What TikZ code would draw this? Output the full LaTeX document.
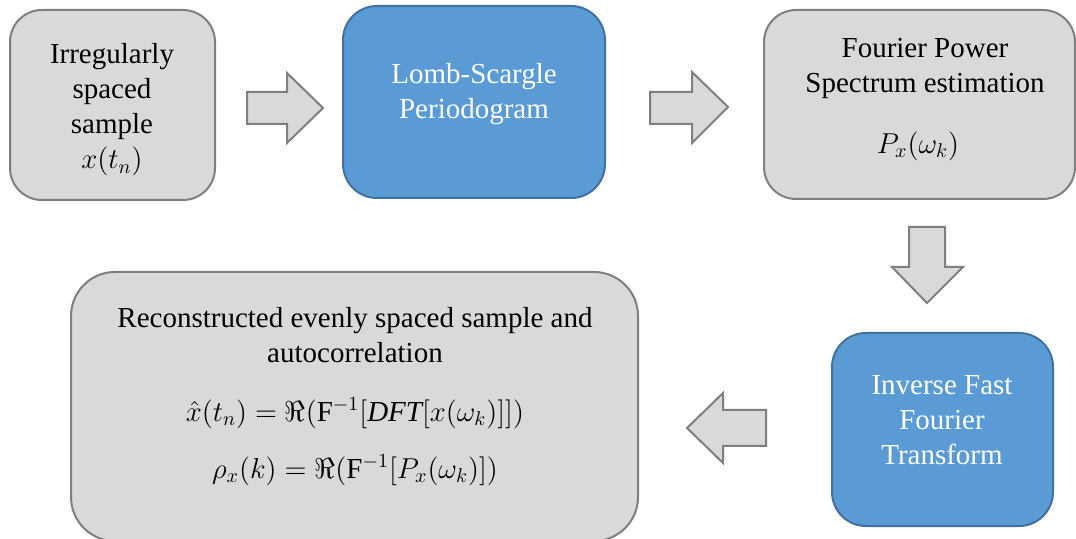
\documentclass[tikz,border=0pt]{standalone}
\usepackage{fontspec}
\setmainfont{Liberation Serif}
\definecolor{boxgray}{HTML}{D9D9D9}
\definecolor{boxline}{HTML}{7F7F7F}
\definecolor{blueF}{HTML}{5B9BD5}
\definecolor{blueL}{HTML}{41719C}
\tikzset{
  graybox/.style={draw=boxline, fill=boxgray, line width=1pt, rounded corners=16pt, inner sep=0pt},
  bluebox/.style={draw=blueL, fill=blueF, line width=1pt, rounded corners=17pt, inner sep=0pt},
  txt/.style={align=center, inner sep=0pt, font=\fontsize{14.5}{17.5}\selectfont},
  wtxt/.style={txt, text=white},
  blockarrow/.style={draw=boxline, fill=boxgray, line width=1pt, line join=miter}
}
\begin{document}
\begin{tikzpicture}[x=0.5pt,y=-0.5pt]
\clip (0,0) rectangle (1076,539);
\fill[white] (0,0) rectangle (1076,539);

% boxes
\node[graybox, minimum width=102.5pt, minimum height=95pt] (b1) at (112.5,105) {};
\node[bluebox, minimum width=131pt, minimum height=96pt] (b2) at (474,102) {};
\node[graybox, minimum width=155.5pt, minimum height=94.5pt] (b3) at (919.5,104.5) {};
\node[bluebox, minimum width=110.5pt, minimum height=96.5pt] (b4) at (942.5,429.5) {};
\node[graybox, rounded corners=22pt, minimum width=283.5pt, minimum height=134.5pt] (b5) at (354.5,406.5) {};

% texts
\node[txt] (t1) at (112,110) {Irregularly\\spaced\\sample\\$x(t_n)$};
\node[wtxt] (t2) at (474,94) {Lomb-Scargle\\Periodogram};
\node[txt] (t3) at (925,68) {Fourier Power\\Spectrum estimation};
\node[txt] (m3) at (918,146) {$P_x(\omega_k)$};
\node[wtxt] (t4) at (942,420) {Inverse Fast\\Fourier\\Transform};
\node[txt] (t5) at (355,335) {Reconstructed evenly spaced sample and\\autocorrelation};
\node[txt] (m5a) at (355,413) {$\hat{x}(t_n)=\Re\bigl(\mathrm{F}^{-1}\bigl[\mathit{DFT}[x(\omega_k)]\bigr]\bigr)$};
\node[txt] (m5b) at (355,470) {$\rho_x(k)=\Re(\mathrm{F}^{-1}[P_x(\omega_k)])$};

% block arrows
\draw[blockarrow] (247,92) -- (287,92) -- (287,73) -- (323,108) -- (287,143) -- (287,124) -- (247,124) -- cycle;
\draw[blockarrow] (650,92) -- (692,92) -- (692,72) -- (728,107) -- (692,143) -- (692,124) -- (650,124) -- cycle;
\draw[blockarrow] (909,227) -- (945,227) -- (945,267) -- (963,267) -- (927,303) -- (892,267) -- (909,267) -- cycle;
\draw[blockarrow] (766,410) -- (723,410) -- (723,393) -- (687,428) -- (723,463) -- (723,446) -- (766,446) -- cycle;
\end{tikzpicture}
\end{document}
